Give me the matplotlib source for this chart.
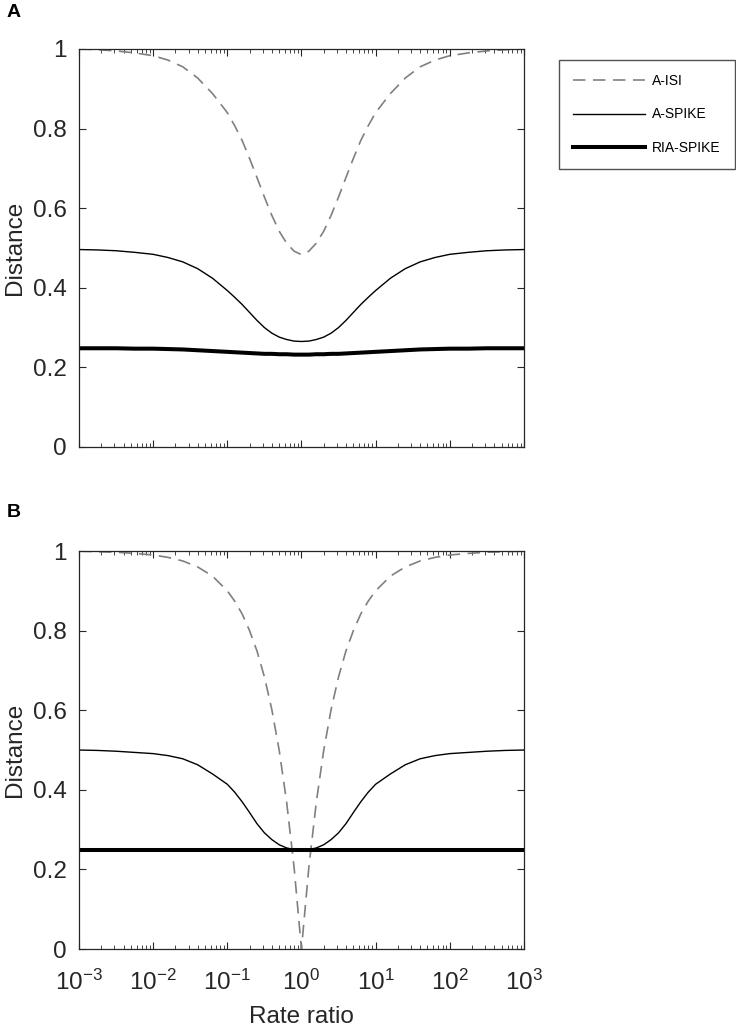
import numpy as np
import matplotlib
matplotlib.use("Agg")
import matplotlib.pyplot as plt
from matplotlib.ticker import LogLocator, NullFormatter, FixedLocator

plt.rcParams['font.family'] = ['Liberation Sans', 'DejaVu Sans']
plt.rcParams['mathtext.default'] = 'regular'
plt.rcParams['axes.unicode_minus'] = False

log_ratio = [-3, -2.75, -2.5, -2.25, -2, -1.8, -1.6, -1.4, -1.2, -1, -0.9, -0.8, -0.7, -0.6,
             -0.5, -0.4, -0.3, -0.2, -0.1, 0,
             0.1, 0.2, 0.3, 0.4, 0.5, 0.6, 0.7, 0.8, 0.9, 1, 1.2, 1.4, 1.6, 1.8, 2,
             2.25, 2.5, 2.75, 3]

# panel A
isi_a = [1.0, 0.998, 0.995, 0.99, 0.983, 0.972, 0.955, 0.927, 0.888, 0.84, 0.807, 0.77, 0.725, 0.677,
         0.628, 0.582, 0.542, 0.512, 0.492, 0.483,
         0.492, 0.512, 0.542, 0.582, 0.628, 0.677, 0.725, 0.77, 0.807, 0.84, 0.888, 0.927, 0.955, 0.972, 0.983,
         0.99, 0.995, 0.998, 1.0]
spike_a = [0.496, 0.495, 0.493, 0.489, 0.484, 0.476, 0.465, 0.448, 0.424, 0.393, 0.376, 0.358, 0.338, 0.318,
           0.300, 0.286, 0.276, 0.270, 0.266, 0.265,
           0.266, 0.270, 0.276, 0.286, 0.300, 0.318, 0.338, 0.358, 0.376, 0.393, 0.424, 0.448, 0.465, 0.476, 0.484,
           0.489, 0.493, 0.495, 0.496]
ria_a = [0.248, 0.248, 0.248, 0.247, 0.247, 0.246, 0.245, 0.243, 0.241, 0.239, 0.238, 0.237, 0.236, 0.235,
         0.234, 0.234, 0.233, 0.233, 0.232, 0.232,
         0.232, 0.233, 0.233, 0.234, 0.234, 0.235, 0.236, 0.237, 0.238, 0.239, 0.241, 0.243, 0.245, 0.246, 0.247,
         0.247, 0.248, 0.248, 0.248]

# panel B
isi_b = [1.0, 0.998, 0.997, 0.994, 0.99, 0.984, 0.975, 0.96, 0.937, 0.90, 0.874, 0.842, 0.80, 0.749,
         0.684, 0.602, 0.499, 0.369, 0.206, 0.0,
         0.206, 0.369, 0.499, 0.602, 0.684, 0.749, 0.80, 0.842, 0.874, 0.90, 0.937, 0.96, 0.975, 0.984, 0.99,
         0.994, 0.997, 0.998, 1.0]
spike_b = [0.5, 0.499, 0.497, 0.494, 0.491, 0.486, 0.478, 0.463, 0.44, 0.414, 0.394, 0.37, 0.343, 0.315,
           0.292, 0.275, 0.262, 0.254, 0.25, 0.25,
           0.25, 0.254, 0.262, 0.275, 0.292, 0.315, 0.343, 0.37, 0.394, 0.414, 0.44, 0.463, 0.478, 0.486, 0.491,
           0.494, 0.497, 0.499, 0.5]
ria_b = [0.25] * 39

labels = ['A-ISI', 'A-SPIKE', 'RIA-SPIKE']
xticks = [1e-3, 1e-2, 1e-1, 1e0, 1e1, 1e2, 1e3]
yticks = [0, 0.2, 0.4, 0.6, 0.8, 1]
ytick_labels = ['0', '0.2', '0.4', '0.6', '0.8', '1']

ratio = 10.0 ** np.array(log_ratio)

fig = plt.figure(figsize=(7.36, 10.28), dpi=100)
ax_a = fig.add_axes([0.1073, 0.5652, 0.6046, 0.3872])
ax_b = fig.add_axes([0.1073, 0.0768, 0.6046, 0.3872])

txt_col = '#262626'
for ax, isi, spike, ria in [(ax_a, isi_a, spike_a, ria_a), (ax_b, isi_b, spike_b, ria_b)]:
    ax.plot(ratio, isi, color='#808080', lw=1.2, dashes=(7.5, 4.5), label=labels[0])
    ax.plot(ratio, spike, color='black', lw=1.0, label=labels[1])
    ax.plot(ratio, ria, color='black', lw=2.9, label=labels[2])
    ax.set_xscale('log')
    ax.set_xlim(1e-3, 1e3)
    ax.set_ylim(0, 1)
    ax.set_yticks(yticks)
    ax.set_yticklabels(ytick_labels)
    ax.xaxis.set_major_locator(FixedLocator(xticks))
    ax.xaxis.set_minor_locator(LogLocator(base=10, subs=np.arange(2, 10), numticks=20))
    ax.xaxis.set_minor_formatter(NullFormatter())
    ax.tick_params(which='both', direction='in', top=True, right=True, color=txt_col,
                   labelsize=17.5, labelcolor=txt_col)
    ax.tick_params(which='major', length=5, width=0.8)
    ax.tick_params(which='minor', length=3, width=0.6)
    ax.tick_params(axis='x', pad=15)
    ax.tick_params(axis='y', pad=9)
    for s in ax.spines.values():
        s.set_color(txt_col)
        s.set_linewidth(0.9)
    ax.set_ylabel('Distance', fontsize=17.5, color=txt_col, labelpad=5)

ax_a.set_xticklabels([])
ax_b.set_xlabel('Rate ratio', fontsize=17.5, color=txt_col, labelpad=8)

leg = ax_a.legend(loc='upper left', bbox_to_anchor=(0.7595, 0.9416), bbox_transform=fig.transFigure,
                  fontsize=10, handlelength=5.2, labelspacing=1.4, borderpad=1.0, handletextpad=0.5,
                  frameon=True, fancybox=False, borderaxespad=0)
leg.get_frame().set_edgecolor(txt_col)
leg.get_frame().set_linewidth(1.0)

fig.text(0.009, 0.9835, 'A', fontsize=14, fontweight='bold', va='baseline')
fig.text(0.009, 0.497, 'B', fontsize=14, fontweight='bold', va='baseline')

fig.savefig('out.png', dpi=100)
